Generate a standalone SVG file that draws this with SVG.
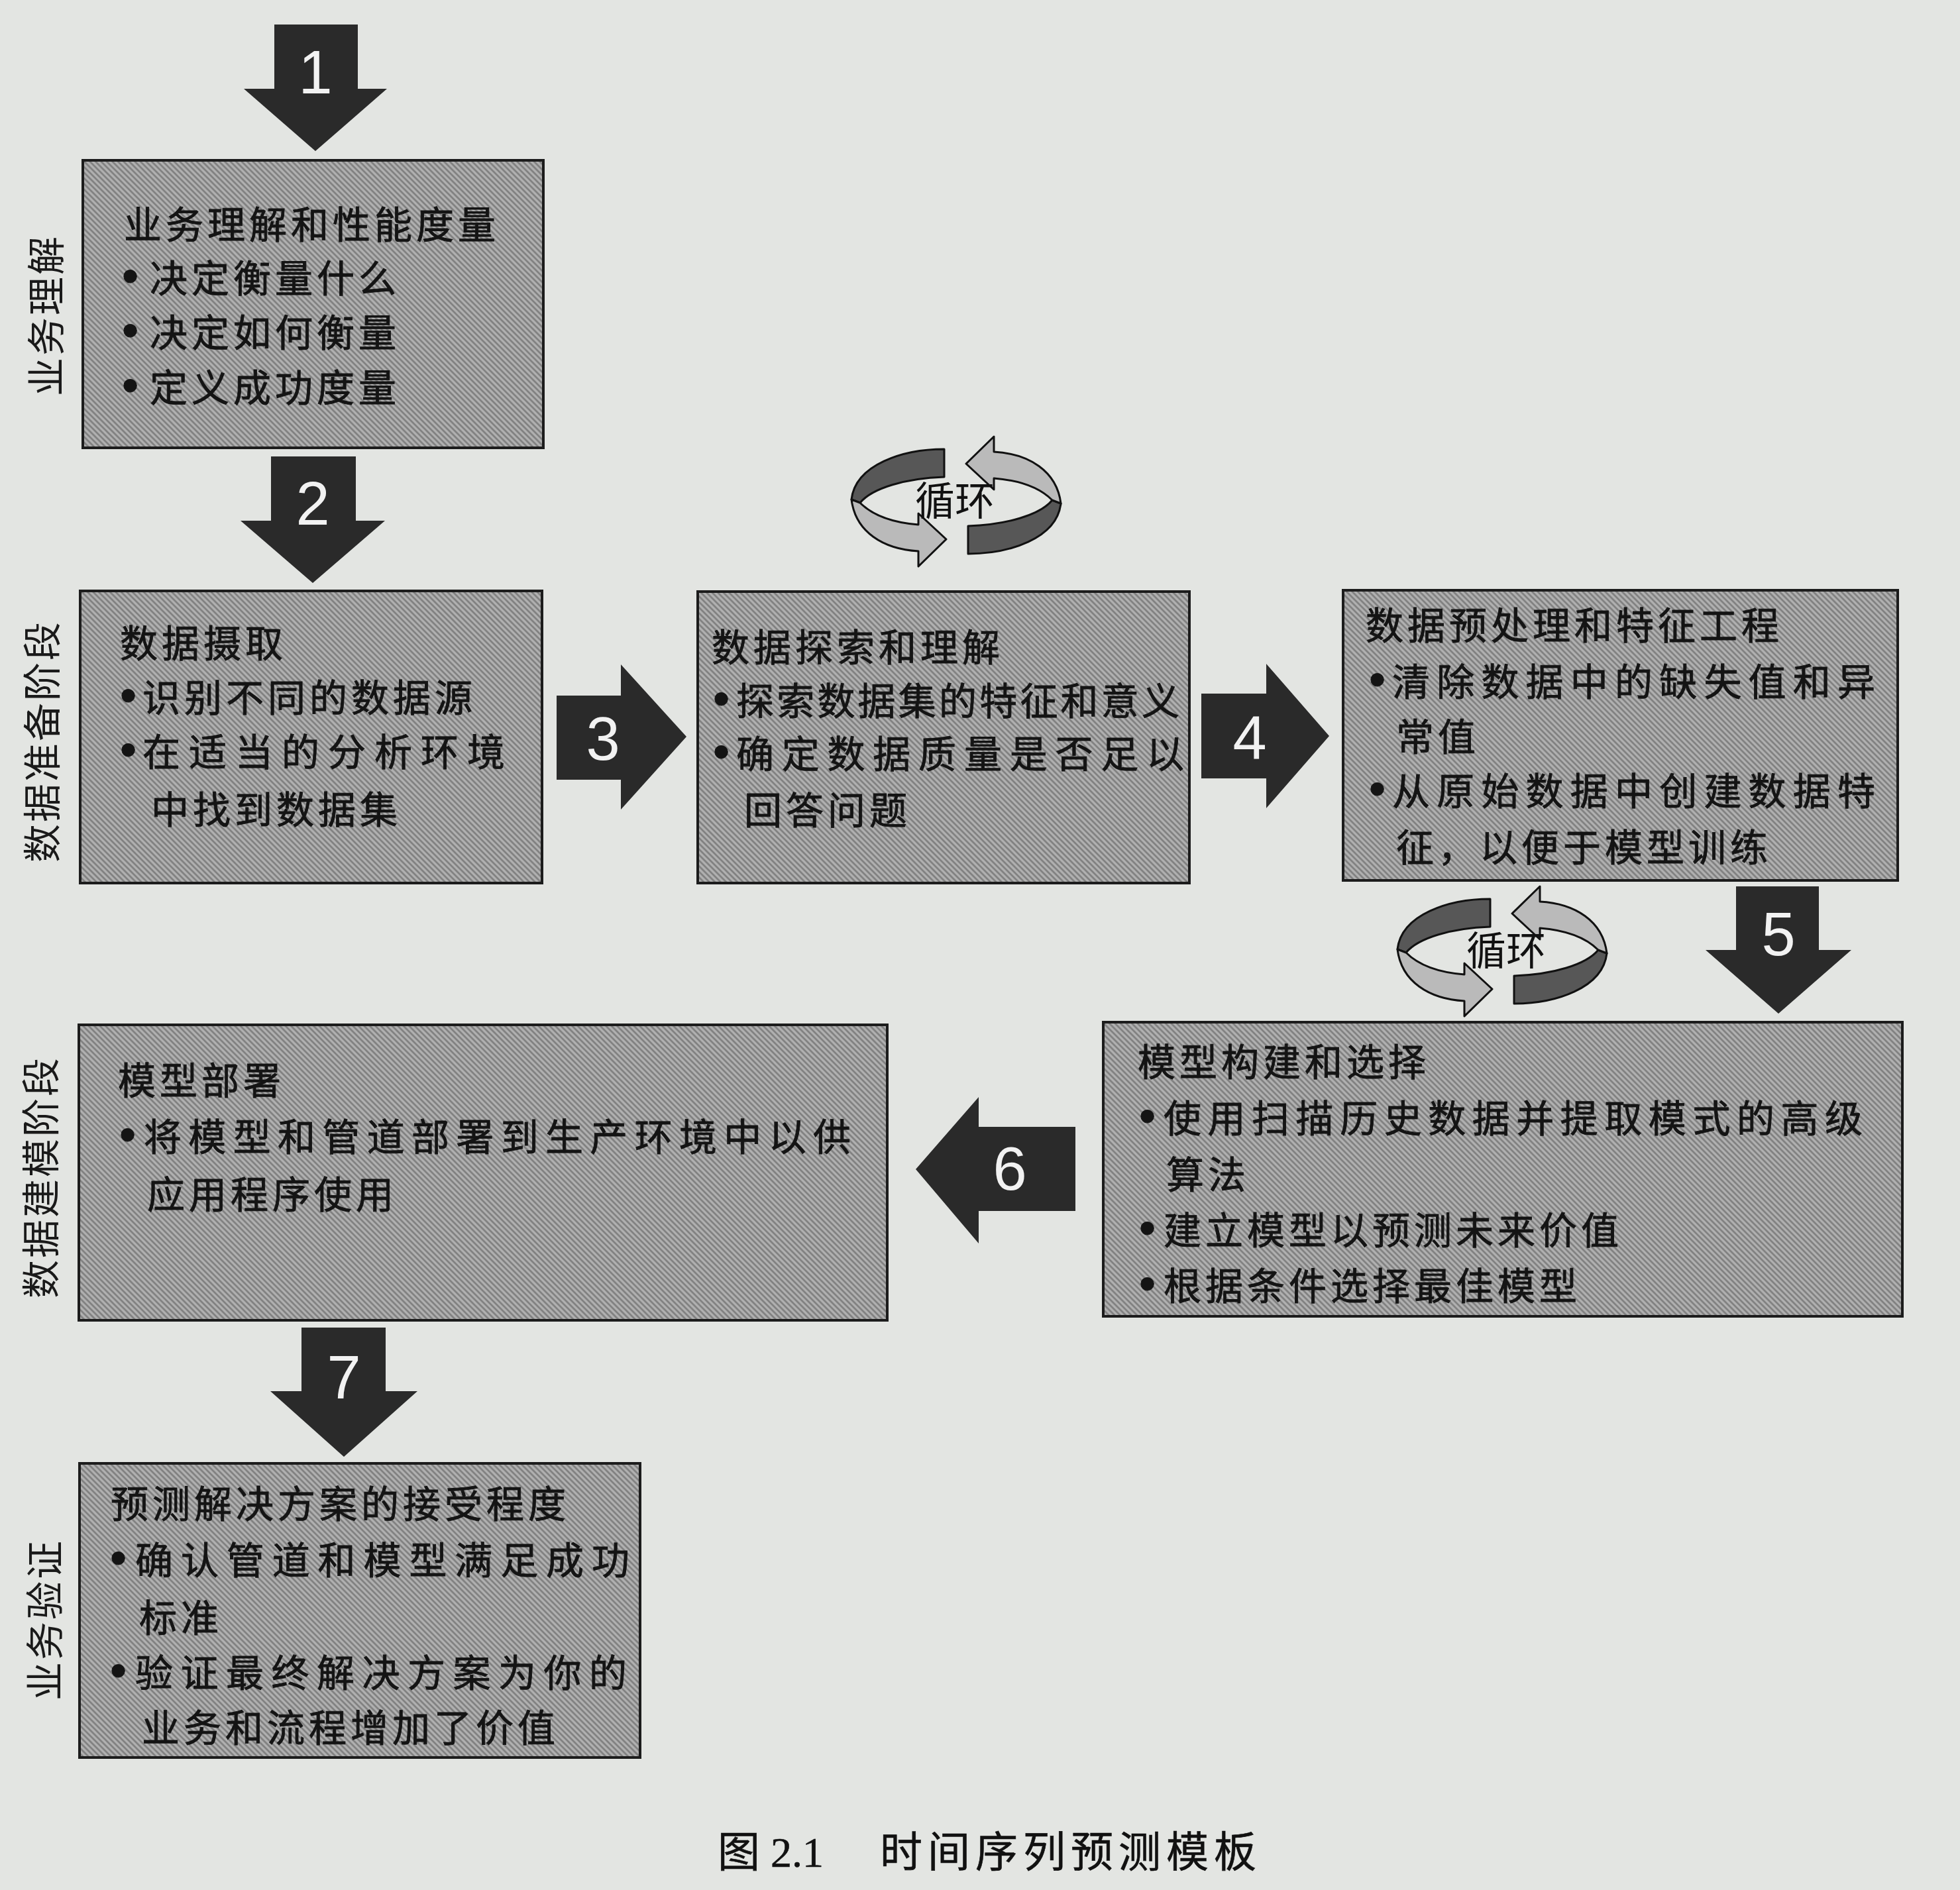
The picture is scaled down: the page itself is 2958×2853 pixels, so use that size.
<svg xmlns="http://www.w3.org/2000/svg" xmlns:xlink="http://www.w3.org/1999/xlink" width="2958" height="2853" viewBox="0 0 2958 2853">
<defs>
<pattern id="hatch" width="6" height="6" patternUnits="userSpaceOnUse" patternTransform="rotate(-45)">
<rect width="6" height="6" fill="#b0b0b0"/>
<line x1="1.5" y1="0" x2="1.5" y2="6" stroke="#7c7c7c" stroke-width="2.5"/>
</pattern>
<g id="loopIcon">
<path class="ldark" d="M -18,-79 C -80,-79 -152,-56 -158,-3 L -145,2 C -127,-20 -77,-35 -18,-37 Z"/>
<path class="llight" d="M -158,-3 L -145,2 C -125,22 -95,32 -57,35 L -57,18 L -15,57 L -57,98 L -57,75 C -110,72 -152,46 -158,-3 Z"/>
<g transform="rotate(180)">
<path class="ldark" d="M -18,-79 C -80,-79 -152,-56 -158,-3 L -145,2 C -127,-20 -77,-35 -18,-37 Z"/>
<path class="llight" d="M -158,-3 L -145,2 C -125,22 -95,32 -57,35 L -57,18 L -15,57 L -57,98 L -57,75 C -110,72 -152,46 -158,-3 Z"/>
</g>
</g>
</defs>
<style>
.box { fill: url(#hatch); stroke: #1c1c1c; stroke-width: 4; }
.arrow { fill: #2a2a2a; }
.num { font-family: "Liberation Sans", Arial, sans-serif; font-size: 92px; fill: #f2f2f2; text-anchor: middle; }
.t { font-family: "Noto Sans CJK SC", "Noto Sans CJK TC", sans-serif; font-size: 57px; fill: #141414; stroke: #141414; stroke-width: 0.9px; letter-spacing: 6px; }
.b { font-family: "Liberation Sans", Arial, sans-serif; font-size: 72px; letter-spacing: 0; }
.lab { font-family: "Noto Sans CJK SC", "Noto Sans CJK TC", sans-serif; font-size: 58px; fill: #1a1a1a; text-anchor: middle; dominant-baseline: central; letter-spacing: 3px; }
.ldark { fill: #575757; stroke: #111; stroke-width: 3; stroke-linejoin: round; }
.llight { fill: #bababa; stroke: #111; stroke-width: 3; stroke-linejoin: round; }
.loopt { font-family: "Noto Sans CJK SC", "Noto Sans CJK TC", sans-serif; font-size: 60px; fill: #111; text-anchor: middle; }
.cap { font-family: "Noto Sans CJK SC", "Noto Sans CJK TC", sans-serif; font-size: 64px; fill: #111; stroke: #111; stroke-width: 0.6px; }
</style>
<rect width="2958" height="2853" fill="#e3e5e2"/>

<g id="phase-labels">
<text class="lab" transform="translate(66,476) rotate(-90)">业务理解</text>
<text class="lab" transform="translate(60,1119) rotate(-90)">数据准备阶段</text>
<text class="lab" transform="translate(58,1777) rotate(-90)">数据建模阶段</text>
<text class="lab" transform="translate(64,2445) rotate(-90)">业务验证</text>
</g>

<g id="connectors">
<g id="arrow1"><polygon class="arrow" points="414,37 540,37 540,134 584,134 476,228 368,134 414,134"/><text class="num" x="476" y="141">1</text></g>
<g id="arrow2"><polygon class="arrow" points="409,689 537,689 537,786 581,786 472,880 363,786 409,786"/><text class="num" x="472" y="792">2</text></g>
<g id="arrow3"><polygon class="arrow" points="840,1050 937,1050 937,1003 1036,1112 937,1222 937,1177 840,1177"/><text class="num" x="910" y="1147">3</text></g>
<g id="arrow4"><polygon class="arrow" points="1813,1047 1911,1047 1911,1002 2006,1111 1911,1220 1911,1175 1813,1175"/><text class="num" x="1886" y="1145">4</text></g>
<g id="arrow5"><polygon class="arrow" points="2620,1338 2745,1338 2745,1434 2794,1434 2684,1530 2574,1434 2620,1434"/><text class="num" x="2684" y="1442">5</text></g>
<g id="arrow6"><polygon class="arrow" points="1623,1701 1623,1828 1477,1828 1477,1877 1382,1765 1477,1656 1477,1701"/><text class="num" x="1524" y="1796">6</text></g>
<g id="arrow7"><polygon class="arrow" points="455,2004 582,2004 582,2100 630,2100 519,2199 408,2100 455,2100"/><text class="num" x="519" y="2111">7</text></g>
</g>

<g id="loop1">
<use xlink:href="#loopIcon" href="#loopIcon" transform="translate(1443,757)"/>
<text class="loopt" x="1441" y="778">循环</text>
</g>
<g id="loop2">
<use xlink:href="#loopIcon" href="#loopIcon" transform="translate(2267,1436)"/>
<text class="loopt" x="2273" y="1457">循环</text>
</g>

<g id="box1">
<rect class="box" x="125" y="242" width="695" height="434"/>
<text class="t" x="187" y="360">业务理解和性能度量</text>
<text class="t" y="441"><tspan class="b" x="184">•</tspan><tspan x="226">决定衡量什么</tspan></text>
<text class="t" y="523"><tspan class="b" x="184">•</tspan><tspan x="226">决定如何衡量</tspan></text>
<text class="t" y="606"><tspan class="b" x="184">•</tspan><tspan x="226">定义成功度量</tspan></text>
</g>

<g id="box2">
<rect class="box" x="121" y="892" width="697" height="441"/>
<text class="t" x="181" y="992">数据摄取</text>
<text class="t" y="1074"><tspan class="b" x="181">•</tspan><tspan x="215">识别不同的数据源</tspan></text>
<text class="t" y="1156"><tspan class="b" x="181">•</tspan><tspan x="215" textLength="553" lengthAdjust="spacing">在适当的分析环境</tspan></text>
<text class="t" x="228" y="1243">中找到数据集</text>
</g>

<g id="box3">
<rect class="box" x="1053" y="893" width="742" height="440"/>
<text class="t" x="1074" y="998">数据探索和理解</text>
<text class="t" y="1079"><tspan class="b" x="1076">•</tspan><tspan x="1111" textLength="675" lengthAdjust="spacing">探索数据集的特征和意义</tspan></text>
<text class="t" y="1159"><tspan class="b" x="1076">•</tspan><tspan x="1111" textLength="682" lengthAdjust="spacing">确定数据质量是否足以</tspan></text>
<text class="t" x="1123" y="1244">回答问题</text>
</g>

<g id="box4">
<rect class="box" x="2027" y="891" width="837" height="438"/>
<text class="t" x="2061" y="965">数据预处理和特征工程</text>
<text class="t" y="1050"><tspan class="b" x="2066">•</tspan><tspan x="2101" textLength="735" lengthAdjust="spacing">清除数据中的缺失值和异</tspan></text>
<text class="t" x="2107" y="1133">常值</text>
<text class="t" y="1215"><tspan class="b" x="2066">•</tspan><tspan x="2101" textLength="735" lengthAdjust="spacing">从原始数据中创建数据特</tspan></text>
<text class="t" x="2107" y="1300">征，以便于模型训练</text>
</g>

<g id="box5">
<rect class="box" x="1665" y="1543" width="1206" height="444"/>
<text class="t" x="1717" y="1624">模型构建和选择</text>
<text class="t" y="1709"><tspan class="b" x="1719">•</tspan><tspan x="1756" textLength="1061" lengthAdjust="spacing">使用扫描历史数据并提取模式的高级</tspan></text>
<text class="t" x="1760" y="1794">算法</text>
<text class="t" y="1878"><tspan class="b" x="1719">•</tspan><tspan x="1756">建立模型以预测未来价值</tspan></text>
<text class="t" y="1962"><tspan class="b" x="1719">•</tspan><tspan x="1756">根据条件选择最佳模型</tspan></text>
</g>

<g id="box6">
<rect class="box" x="119" y="1547" width="1220" height="446"/>
<text class="t" x="178" y="1652">模型部署</text>
<text class="t" y="1737"><tspan class="b" x="180">•</tspan><tspan x="217" textLength="1073" lengthAdjust="spacing">将模型和管道部署到生产环境中以供</tspan></text>
<text class="t" x="222" y="1824">应用程序使用</text>
</g>

<g id="box7">
<rect class="box" x="120" y="2209" width="846" height="444"/>
<text class="t" x="167" y="2291">预测解决方案的接受程度</text>
<text class="t" y="2376"><tspan class="b" x="166">•</tspan><tspan x="204" textLength="752" lengthAdjust="spacing">确认管道和模型满足成功</tspan></text>
<text class="t" x="210" y="2463">标准</text>
<text class="t" y="2546"><tspan class="b" x="166">•</tspan><tspan x="204" textLength="748" lengthAdjust="spacing">验证最终解决方案为你的</tspan></text>
<text class="t" x="214" y="2629">业务和流程增加了价值</text>
</g>

<g id="caption">
<text class="cap" y="2818"><tspan x="1083">图</tspan><tspan x="1163" font-family="'Liberation Serif', 'Times New Roman', serif">2.1</tspan><tspan x="1328" letter-spacing="8">时间序列预测模板</tspan></text>
</g>
</svg>
